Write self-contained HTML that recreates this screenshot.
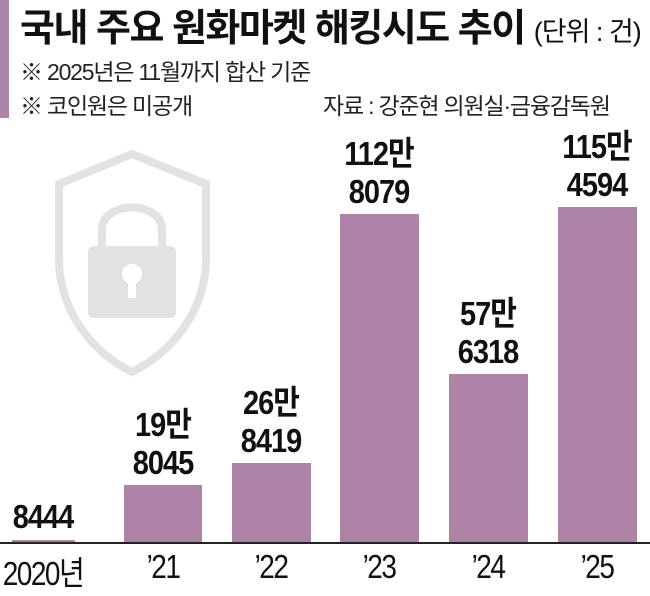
<!DOCTYPE html>
<html><head><meta charset="utf-8"><style>
body{margin:0;width:650px;height:591px;background:#fff;overflow:hidden;position:relative;font-family:"Liberation Sans","Noto Sans CJK KR",sans-serif}
.a{position:absolute;white-space:nowrap}
.bar{position:absolute;background:#ad83a8}
.v{position:absolute;width:110px;text-align:center;font-family:"Liberation Sans Narrow","Liberation Sans","Noto Sans CJK KR",sans-serif;font-weight:bold;font-size:29px;line-height:33px;color:#111;letter-spacing:-1px;transform:scaleY(1.15);transform-origin:50% 100%}
.x{position:absolute;width:110px;text-align:center;font-family:"Liberation Sans Narrow","Liberation Sans","Noto Sans CJK KR",sans-serif;font-size:28px;top:548px;color:#111;letter-spacing:-1.5px;transform:scaleY(1.2);transform-origin:50% 0}
</style></head><body>
<div class="bar" style="left:0;top:0;width:9px;height:118px"></div>
<div class="a" style="left:20px;top:-3px;font-size:38px;font-weight:bold;letter-spacing:-1.5px;color:#111">국내 주요 원화마켓 해킹시도 추이 <span style="font-size:27px;font-weight:normal;letter-spacing:-1px">(단위 : 건)</span></div>
<div class="a" style="left:20px;top:53px;font-size:23px;color:#222;letter-spacing:-1.2px">※ 2025년은 11월까지 합산 기준</div>
<div class="a" style="left:20px;top:87px;font-size:23px;color:#222;letter-spacing:-1.2px">※ 코인원은 미공개</div>
<div class="a" style="left:323px;top:87px;font-size:23px;color:#222;letter-spacing:-1.2px">자료 : 강준현 의원실·금융감독원</div>
<svg class="a" style="left:50px;top:148px" width="165" height="232" viewBox="0 0 165 232">
<path d="M82 6 L156 36 V110 C156 165 120 205 82 224 C44 205 9 165 9 110 V36 Z" fill="none" stroke="#e2e2e2" stroke-width="8"/>
<path d="M52 100 V82 C52 52 112 52 112 82 V100" fill="none" stroke="#e2e2e2" stroke-width="8"/>
<rect x="38" y="98" width="88" height="72" rx="6" fill="#e2e2e2"/>
<circle cx="82" cy="126" r="10" fill="#fff"/><rect x="78" y="130" width="8" height="20" fill="#fff"/>
</svg>
<div class="bar" style="left:12px;top:540px;width:63px;height:2px"></div>
<div class="bar" style="left:124px;top:485px;width:78px;height:57px"></div>
<div class="bar" style="left:232px;top:463px;width:79px;height:79px"></div>
<div class="bar" style="left:340px;top:214px;width:79px;height:328px"></div>
<div class="bar" style="left:449px;top:374px;width:79px;height:168px"></div>
<div class="bar" style="left:558px;top:207px;width:79px;height:335px"></div>
<div class="a" style="left:0;top:542px;width:650px;height:2px;background:#222"></div>
<div class="v" style="left:-12px;top:504px">8444</div>
<div class="v" style="left:108px;top:417px">19만<br>8045</div>
<div class="v" style="left:216px;top:395px">26만<br>8419</div>
<div class="v" style="left:324px;top:146px">112만<br>8079</div>
<div class="v" style="left:433px;top:306px">57만<br>6318</div>
<div class="v" style="left:542px;top:139px">115만<br>4594</div>
<div class="x" style="left:-12px">2020년</div>
<div class="x" style="left:108px">’21</div>
<div class="x" style="left:216px">’22</div>
<div class="x" style="left:324px">’23</div>
<div class="x" style="left:433px">’24</div>
<div class="x" style="left:542px">’25</div>
</body></html>
